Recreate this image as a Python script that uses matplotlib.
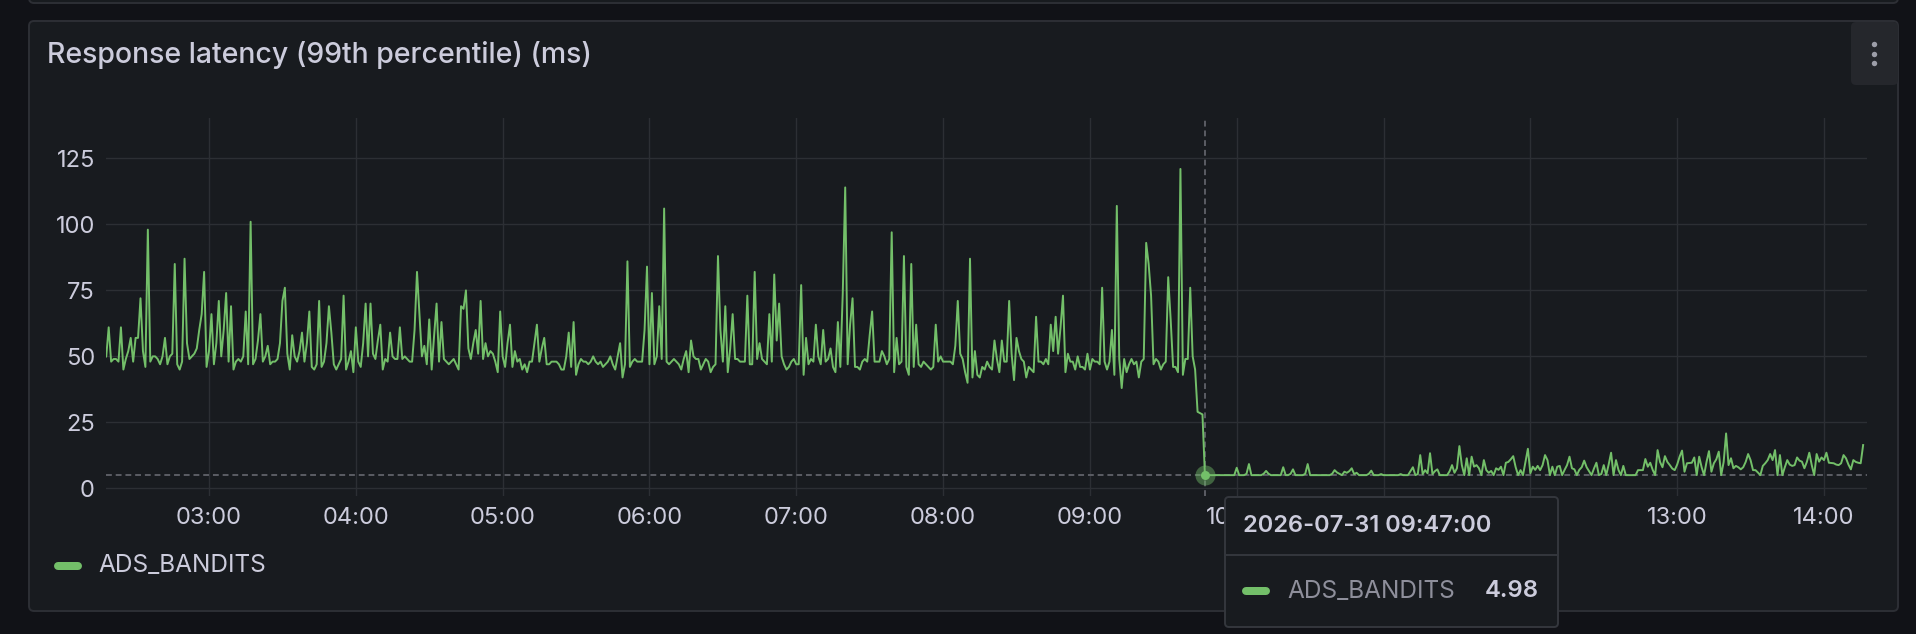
import matplotlib
matplotlib.use('Agg')
import matplotlib.pyplot as plt
import numpy as np
import pandas as pd
from matplotlib.lines import Line2D
from matplotlib.patches import FancyBboxPatch
from matplotlib.transforms import Bbox, IdentityTransform

# p99 latency in ms, one sample per minute starting 2026-07-31 02:17
lat_0217 = [49, 50, 61, 48, 49, 49, 48, 61, 45, 49,
            52, 57, 48, 57, 57, 72, 52, 46, 98, 48,
            50, 50, 49, 47, 50, 57, 47, 50, 51, 85,
            47, 45, 48, 87, 55, 49, 50, 51, 53, 60,
            66, 82, 46, 52, 66, 47, 55, 71, 50, 60,
            74, 48, 69, 45, 48, 49, 48, 50, 67, 47,
            101, 47, 49, 56, 66, 48, 50, 54, 47, 48,
            48, 49, 55, 71, 76, 51, 45, 58, 50, 48,
            52, 59, 48, 55, 67, 46, 45, 47, 71, 46,
            48, 55, 69, 59, 47, 45, 47, 49, 73, 45,
            48, 52, 44, 61, 48, 46, 55, 70, 50, 70,
            51, 49, 56, 62, 45, 49, 48, 59, 50, 49]
lat_0417 = [49, 61, 49, 50, 49, 48, 48, 60, 82, 66,
            50, 54, 47, 64, 45, 58, 70, 48, 63, 49,
            48, 47, 48, 49, 47, 45, 69, 68, 75, 53,
            49, 55, 60, 51, 71, 49, 55, 50, 52, 51,
            48, 44, 67, 50, 46, 55, 62, 46, 52, 48,
            49, 45, 47, 44, 48, 48, 55, 62, 48, 53,
            57, 47, 47, 48, 48, 48, 47, 45, 45, 50,
            59, 46, 63, 43, 47, 49, 48, 48, 47, 48,
            50, 48, 47, 48, 46, 47, 48, 50, 47, 45,
            50, 55, 42, 47, 86, 46, 48, 49, 48, 48,
            48, 60, 84, 47, 74, 47, 50, 69, 49, 106,
            48, 47, 48, 49, 48, 47, 45, 49, 52, 44]
lat_0617 = [56, 50, 49, 49, 45, 47, 49, 48, 44, 46,
            47, 88, 60, 48, 69, 44, 53, 66, 49, 49,
            48, 48, 48, 73, 47, 47, 82, 49, 55, 49,
            48, 47, 66, 48, 81, 56, 70, 50, 47, 45,
            46, 48, 49, 47, 47, 77, 43, 57, 47, 49,
            48, 62, 50, 47, 60, 48, 49, 53, 46, 44,
            63, 46, 74, 114, 47, 62, 72, 46, 46, 45,
            48, 49, 48, 58, 67, 48, 48, 48, 52, 50,
            47, 49, 97, 44, 57, 47, 48, 88, 46, 43,
            85, 46, 62, 47, 46, 48, 47, 46, 45, 46,
            62, 48, 50, 48, 48, 48, 48, 47, 54, 71,
            51, 49, 44, 40, 87, 42, 52, 43, 42, 46]
lat_0817 = [45, 48, 46, 45, 56, 49, 44, 56, 48, 48,
            71, 51, 41, 57, 52, 49, 48, 42, 46, 45,
            44, 65, 48, 48, 47, 49, 47, 62, 52, 65,
            51, 61, 73, 44, 51, 48, 48, 45, 50, 46,
            46, 45, 51, 45, 49, 48, 48, 47, 76, 48,
            45, 48, 60, 43, 107, 49, 38, 49, 44, 47,
            49, 47, 48, 42, 48, 49, 93, 85, 73, 47,
            49, 48, 45, 47, 48, 80, 64, 46, 46, 44,
            121, 43, 49, 49, 76, 50, 45, 29, 28.5, 28]
lat_0947 = [4.98, 5, 5, 5, 5, 5, 5, 5, 5, 5,
            5, 5, 5, 7.8, 5, 5, 5, 5.5, 9.2, 5,
            5, 5, 5, 5, 5.5, 6.6, 5.5, 5, 5, 5,
            5, 5, 8, 5, 5, 5.5, 7.2, 5, 5, 5,
            5, 5.5, 9.2, 5, 5, 5, 5, 5, 5, 5,
            5, 5, 5.5, 6.9, 6, 5.5, 5, 6.3, 5.9, 6.5,
            7.6, 5.4, 5.9, 5, 5, 5, 5, 5.5, 6.7, 5,
            5, 5, 5.4, 5, 5, 5, 5, 5, 5, 5,
            5.4, 5, 5, 5, 6.5, 8, 5, 5.4, 12.6, 5.4,
            6.9, 5.7, 13.3, 5.4, 6.5, 7.2, 5, 5, 5, 5,
            6.5, 8.8, 5.9, 7.6, 16, 8.8, 5, 11.4, 5, 12,
            8.2, 8.8, 7.6, 5, 10.7, 6.9, 5.9, 6.6, 5, 7.6,
            7, 8.2, 5, 9.7, 10, 11, 12.2, 8, 5, 6.9,
            5, 10, 15, 5.7, 8.2, 7, 8.5, 6.9, 8.8, 12.6,
            10.7, 5, 8.2, 5, 8.2, 8.5, 5, 7, 8.8, 12,
            7.6, 7.2, 5, 7, 8, 10.5, 8, 6.5, 5, 7.5,
            9.7, 5, 5.4, 8.8, 5, 9, 13.5, 5, 10.7, 7,
            5, 8.5, 5, 5, 5, 5, 5, 6.9, 6.9, 6.9,
            11.1, 8.2, 9.7, 7, 5, 14.5, 10, 8, 12.2, 10,
            8.8, 7.5, 6.9, 9, 12, 14.3, 6.3, 9.5, 9.6, 9.7,
            11.7, 5, 12, 8, 5, 10, 14.1, 6.3, 9.5, 11,
            13.9, 5, 10, 20.8, 8.8, 11.4, 7.6, 8.5, 8, 7.2,
            8, 10, 13, 10.7, 6.9, 6.9, 6, 5, 8.5, 9.5,
            10.7, 13, 10.7, 14.5, 5, 12.6, 5, 8, 10.7, 9,
            8.5, 8.8, 11.7, 10.5, 10.1, 7.6, 10, 13.5, 8.8, 5,
            13, 10.1, 11.7, 10.7, 13.5, 9.7, 9.6, 9.5, 9, 8.8,
            9.5, 12.6, 11.4, 9, 7.2, 10.7, 10, 9.7, 9.5, 16.4]

latency = lat_0217 + lat_0417 + lat_0617 + lat_0817 + lat_0947
series_name = 'ADS_BANDITS'
start = pd.Timestamp('2026-07-31 02:17')
times = pd.date_range(start, periods=len(latency), freq='1min')
hover_time = pd.Timestamp('2026-07-31 09:47')
hover_value = latency[int((hover_time - start) / pd.Timedelta('1min'))]
x_tick_labels = ['03:00', '04:00', '05:00', '06:00', '07:00', '08:00',
                 '09:00', '10:00', '11:00', '12:00', '13:00', '14:00']
y_ticks = [0, 25, 50, 75, 100, 125]

W, H = 1916, 634
GREEN = '#73bf69'
TEXT = '#ccccdc'
PANEL = '#181b1f'
BORDER = '#2d2f35'

plt.rcParams['font.family'] = ['Inter', 'DejaVu Sans']

fig = plt.figure(figsize=(W / 100, H / 100), dpi=100, facecolor='#111217')
ident = IdentityTransform()


def fx(x):
    return x / W


def fy(y):
    return 1 - y / H


def box(x0, y0, x1, y1, r, fc, ec, z, lw=1.4):
    p = FancyBboxPatch((x0, H - y1), x1 - x0, y1 - y0,
                       boxstyle=f'round,pad=0,rounding_size={r}',
                       fc=fc, ec=ec, lw=lw, transform=ident, zorder=z)
    fig.add_artist(p)


def hline(x0, x1, y, color, lw, z):
    fig.add_artist(Line2D([fx(x0), fx(x1)], [fy(y), fy(y)], color=color, lw=lw,
                          solid_capstyle='round', transform=fig.transFigure, zorder=z))


# panels
box(29, -20, 1898, 3, 5, PANEL, BORDER, -3)
box(29, 21, 1898, 611, 5, PANEL, BORDER, -3)
box(1851, 22, 1898, 85, 5, '#25272c', 'none', -2)
for dy in (44, 54, 63):
    fig.add_artist(Line2D([fx(1874)], [fy(dy)], marker='o', ms=3.9, color='#9d9ea9',
                          mec='none', transform=fig.transFigure, zorder=-1))

fig.text(fx(47), fy(55), 'Response latency (99th percentile) (ms)', fontsize=20.5,
         fontweight='medium', color=TEXT, ha='left', va='center')

# plot area
ax = fig.add_axes([fx(106), fy(496), (1867 - 106) / W, (496 - 118) / H])
ax.set_facecolor('none')
ax.plot(times, latency, color=GREEN, lw=1.4, zorder=3)
ax.axvline(hover_time, color='#5b5d64', lw=1.4, ls=(0, (3, 2)), zorder=2)
ax.axhline(hover_value, color='#5b5d64', lw=1.4, ls=(0, (3, 2)), zorder=2)
ax.plot([hover_time], [hover_value], 'o', ms=14.4, color=GREEN, alpha=0.45, mec='none', zorder=4)
ax.plot([hover_time], [hover_value], 'o', ms=6.5, color=GREEN, mec='none', zorder=5)

ax.set_xlim(pd.Timestamp('2026-07-31 02:17:54').to_pydatetime(),
            pd.Timestamp('2026-07-31 14:17:35').to_pydatetime())
ax.set_ylim(-2.9, 140.3)
ax.set_yticks(y_ticks)
ax.set_xticks([pd.Timestamp('2026-07-31 ' + t).to_pydatetime() for t in x_tick_labels])
tick_texts = ax.set_xticklabels(x_tick_labels)
ax.grid(True, color='#2c2f34', lw=1.0)
ax.set_axisbelow(True)
for s in ax.spines.values():
    s.set_visible(False)
ax.tick_params(length=0, labelsize=17, labelcolor=TEXT, pad=8)

# the hover tooltip covers part of the time axis
for t in tick_texts:
    if t.get_text() in ('11:00', '12:00'):
        t.set_visible(False)
    elif t.get_text() == '10:00':
        t.set_clip_box(Bbox.from_extents(0, 0, 1225, H))
        t.set_clip_on(True)

# legend
hline(58, 78, 566, GREEN, 5.76, 2)
fig.text(fx(98), fy(566), series_name, fontsize=17.6, color=TEXT, ha='left', va='center')

# tooltip
box(1225, 497, 1558, 627, 4, PANEL, '#34373d', 10)
hline(1226, 1557, 555, '#34373d', 1.4, 11)
fig.text(fx(1243), fy(526), hover_time.strftime('%Y-%m-%d %H:%M:%S'), fontsize=17,
         fontweight='semibold', color=TEXT, ha='left', va='center', zorder=12)
hline(1246, 1266, 591, GREEN, 5.76, 12)
fig.text(fx(1287), fy(591), series_name, fontsize=17.6, color='#8e8f9b',
         ha='left', va='center', zorder=12)
fig.text(fx(1539), fy(591), f'{hover_value:.2f}', fontsize=17.2, fontweight='semibold',
         color=TEXT, ha='right', va='center', zorder=12)

fig.savefig('out.png', dpi=100, facecolor=fig.get_facecolor())
